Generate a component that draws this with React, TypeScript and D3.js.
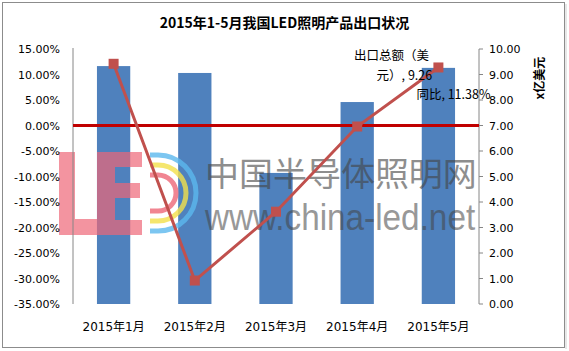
import { scaleBand, scaleLinear, line } from 'd3';

const months = ['2015年1月', '2015年2月', '2015年3月', '2015年4月', '2015年5月'];
const exportValue = [9.33, 9.06, 5.14, 7.92, 9.26]; // 亿美元, right axis
const growth = [12.1, -30.4, -16.9, -0.2, 11.38]; // 同比 %, left axis
const leftTicks = [15, 10, 5, 0, -5, -10, -15, -20, -25, -30, -35];
const rightTicks = [0, 1, 2, 3, 4, 5, 6, 7, 8, 9, 10];

const W = 569;
const H = 351;
const plotL = 73;
const plotR = 479;
const plotT = 49;
const plotB = 304;

const fontTick = 'DejaVu Sans, Noto Sans CJK SC, sans-serif';
const fontCjk = 'Noto Sans CJK SC, DejaVu Sans, sans-serif';

export default function App() {
    const x = scaleBand().domain(months).range([plotL, plotR]).paddingInner(0.59).paddingOuter(0.295);
    const yL = scaleLinear().domain([-35, 15]).range([plotB, plotT]);
    const yR = scaleLinear().domain([0, 10]).range([plotB, plotT]);
    const cx = (m: string) => (x(m) || 0) + x.bandwidth() / 2;

    const pts: [number, number][] = months.map((m, i) => [cx(m), yL(growth[i])]);
    const path = line()(pts) || '';

    const last = months.length - 1;
    const lx = cx(months[last]);

    // watermark logo "LE" drawn as blocks (decoration only)
    const logoLE = 'M59 152 H75 V219 H98 V235 H59 Z M97 152 H142 V167 H115 V183 H140 V198 H115 V220 H142 V235 H97 Z';

    return (
        <svg width={W} height={H} style={{ position: 'absolute', left: 0, top: 0, background: '#fff' }}>
            <rect x={2.5} y={2.5} width={562} height={345} fill="#fff" stroke="#8c8c8c" strokeWidth={1} />
            <line x1={566} y1={4} x2={566} y2={349} stroke="#d0d0d0" />

            <text x={W / 2} y={28} textAnchor="middle" fontFamily={fontCjk} fontWeight="bold" fontSize={14}>
                2015年1-5月我国LED照明产品出口状况
            </text>

            {/* bars */}
            {months.map((m, i) => (
                <rect key={m} x={x(m)} y={yR(exportValue[i])} width={x.bandwidth()} height={plotB - yR(exportValue[i])} fill="#4F81BD" />
            ))}

            {/* watermark */}
            <g>
                <path d={logoLE} fill="#EE6677" opacity={0.7} />
                <path d="M150 155 H158 A38 38 0 0 1 158 231 H150" fill="none" stroke="#5BB8EE" strokeWidth={5} opacity={0.8} />
                <path d="M150 165 H158 A28 28 0 0 1 158 221 H150" fill="none" stroke="#F3E04A" strokeWidth={5} opacity={0.8} />
                <path d="M150 175 H158 A18 18 0 0 1 158 211 H150" fill="none" stroke="#EE6677" strokeWidth={5} opacity={0.8} />
                <g transform="translate(205,186) scale(1.03,1)">
                    <text x={0} y={0} fontFamily={fontCjk} fontSize={33} fill="#444" opacity={0.6}>
                        中国半导体照明网
                    </text>
                </g>
                <g transform="translate(205,230) scale(0.9,1)">
                    <text x={0} y={0} fontFamily="Liberation Sans, sans-serif" fontSize={37} fill="#444" opacity={0.55}>
                        www.china-led.net
                    </text>
                </g>
            </g>

            {/* left axis */}
            <line x1={plotL} y1={plotT - 1} x2={plotL} y2={plotB} stroke="#868686" />
            {leftTicks.map((t) => (
                <text key={t} x={60} y={yL(t) + 4} textAnchor="end" fontFamily={fontTick} fontSize={11}>
                    {t.toFixed(2) + '%'}
                </text>
            ))}

            {/* right axis */}
            <line x1={plotR} y1={plotT} x2={plotR} y2={plotB} stroke="#868686" />
            {rightTicks.map((t) => (
                <g key={t}>
                    <line x1={plotR} y1={yR(t)} x2={plotR + 4} y2={yR(t)} stroke="#868686" />
                    <text x={489} y={yR(t) + 4} fontFamily={fontTick} fontSize={11}>
                        {t.toFixed(2)}
                    </text>
                </g>
            ))}
            <text transform="translate(544,78) rotate(-90)" textAnchor="middle" fontFamily={fontCjk} fontWeight="bold" fontSize={12}>
                x亿美元
            </text>

            {/* zero line */}
            <line x1={plotL} y1={yL(0)} x2={plotR} y2={yL(0)} stroke="#C00000" strokeWidth={3} />

            {/* growth line */}
            <path d={path} fill="none" stroke="#C0504D" strokeWidth={3} />
            {pts.map(([px, py], i) => (
                <rect key={i} x={px - 5} y={py - 5} width={10} height={10} fill="#C0504D" />
            ))}

            {/* x labels */}
            {months.map((m) => (
                <text key={m} x={cx(m)} y={331} textAnchor="middle" fontFamily={fontTick} fontSize={12}>
                    {m}
                </text>
            ))}

            {/* data labels */}
            <text x={lx - 47} y={yR(exportValue[last]) - 8} fontFamily={fontCjk} fontSize={12.5} textAnchor="middle">
                出口总额（美
            </text>
            <text x={lx - 34} y={yR(exportValue[last]) + 12} fontFamily={fontCjk} fontSize={12.5} textAnchor="middle">
                元）, {exportValue[last].toFixed(2)}
            </text>
            <text x={lx + 15} y={yL(growth[last]) + 32} fontFamily={fontCjk} fontSize={12.5} textAnchor="middle">
                同比, {growth[last].toFixed(2)}%
            </text>
        </svg>
    );
}
